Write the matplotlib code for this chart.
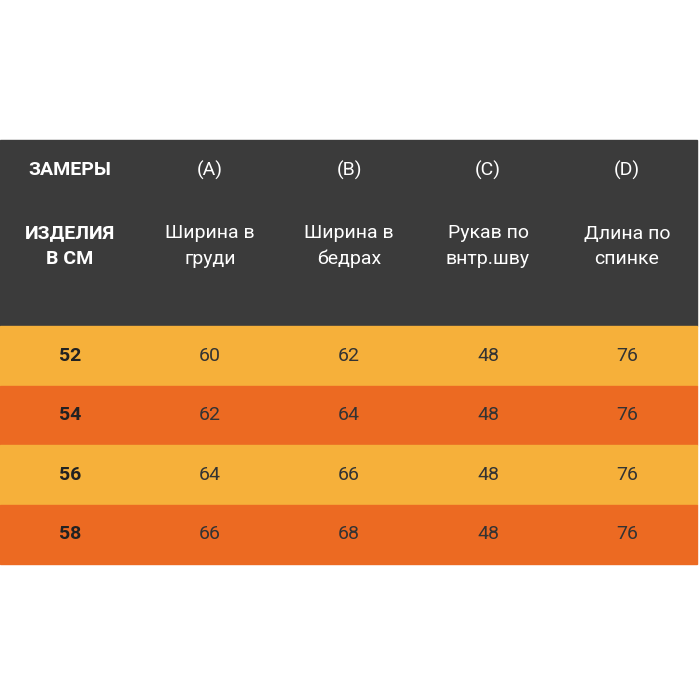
import matplotlib.pyplot as plt
from matplotlib.patches import Rectangle

plt.rcParams['font.family'] = ['Roboto', 'DejaVu Sans']

# Данные таблицы
letters = ["(A)", "(B)", "(C)", "(D)"]
headers = ["Ширина в\nгруди", "Ширина в\nбедрах", "Рукав по\nвнтр.шву", "Длина по\nспинке"]
sizes = ["52", "54", "56", "58"]
chest = [60, 62, 64, 66]
hips = [62, 64, 66, 68]
sleeve = [48, 48, 48, 48]
length = [76, 76, 76, 76]

fig = plt.figure(figsize=(7, 7), dpi=100)
ax = fig.add_axes([0, 0, 1, 1])
ax.set_xlim(0, 700)
ax.set_ylim(700, 0)
ax.axis('off')

col_x = [70, 210, 349, 488, 627]
dark = '#3b3b3b'
row_colors = ['#f6b03a', '#ec6a22']

# шапка
ax.add_patch(Rectangle((0, 140), 697, 186, color=dark))
ax.text(col_x[0], 170, "ЗАМЕРЫ", color='white', fontsize=14, fontweight='bold', ha='center', va='center')
ax.text(col_x[0], 246, "ИЗДЕЛИЯ\nВ СМ", color='white', fontsize=14, fontweight='bold',
        ha='center', va='center', linespacing=1.5)
for i in range(4):
    ax.text(col_x[i + 1], 170, letters[i], color='white', fontsize=14, ha='center', va='center')
    ax.text(col_x[i + 1], 246, headers[i], color='white', fontsize=14, ha='center', va='center',
            linespacing=1.5)

# строки
row_h = 59.5
for r in range(len(sizes)):
    y0 = 326 + r * row_h
    ax.add_patch(Rectangle((0, y0), 697, row_h, color=row_colors[r % 2]))
    yc = y0 + row_h / 2
    ax.text(col_x[0], yc, sizes[r], color='#222222', fontsize=14, fontweight='bold', ha='center', va='center')
    for j, vals in enumerate([chest, hips, sleeve, length]):
        ax.text(col_x[j + 1], yc, str(vals[r]), color='#333333', fontsize=14, ha='center', va='center')

fig.savefig('out.png', dpi=100, facecolor='white')
